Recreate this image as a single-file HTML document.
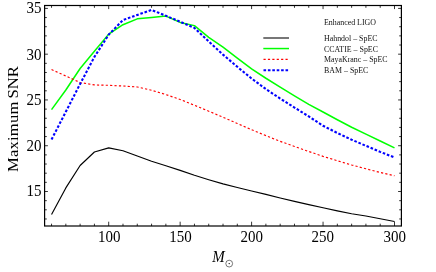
<!DOCTYPE html>
<html><head><meta charset="utf-8"><style>
html,body{margin:0;padding:0;background:#fff;}
svg{display:block;font-family:"Liberation Serif",serif;}
</style></head><body>
<svg width="436" height="272" viewBox="0 0 436 272">
<rect width="436" height="272" fill="#fff"/>
<g fill="none" stroke-linejoin="round">
<path d="M51.54,214.48 L65.83,187.93 L80.12,165.50 L94.41,152.04 L108.70,147.83 L122.99,150.76 L137.28,156.07 L151.57,161.29 L165.86,165.77 L180.15,170.35 L194.44,175.30 L208.73,179.69 L223.02,183.90 L237.31,187.56 L251.60,191.04 L265.89,194.34 L280.18,198.00 L294.47,201.39 L308.76,204.68 L323.05,207.80 L337.34,210.82 L351.63,213.75 L365.92,216.04 L380.21,218.78 L394.50,221.53" stroke="#000" stroke-width="1.15"/>
<path d="M51.54,109.65 L65.83,89.97 L80.12,68.46 L94.41,51.34 L108.70,34.13 L122.99,24.70 L137.28,18.84 L151.57,17.56 L165.86,16.09 L180.15,22.41 L194.44,25.61 L208.73,37.33 L223.02,47.22 L237.31,58.11 L251.60,68.82 L265.89,78.25 L280.18,87.13 L294.47,95.83 L308.76,104.34 L323.05,112.03 L337.34,119.72 L351.63,127.23 L365.92,134.10 L380.21,140.96 L394.50,147.92" stroke="#00ff00" stroke-width="1.5"/>
<path d="M51.54,69.56 L65.83,75.96 L80.12,82.56 L94.41,84.94 L108.70,85.30 L122.99,86.03 L137.28,86.95 L151.57,90.25 L165.86,94.55 L180.15,99.49 L194.44,105.26 L208.73,111.21 L223.02,117.25 L237.31,123.48 L251.60,129.70 L265.89,135.65 L280.18,141.33 L294.47,146.46 L308.76,151.49 L323.05,156.34 L337.34,160.74 L351.63,164.95 L365.92,168.80 L380.21,172.46 L394.50,175.75" stroke="#ff0000" stroke-width="1.15" stroke-dasharray="2.2 2.2"/>
<path d="M51.54,139.50 L65.83,111.76 L80.12,83.93 L94.41,56.92 L108.70,34.67 L122.99,20.03 L137.28,14.90 L151.57,9.96 L165.86,15.72 L180.15,21.77 L194.44,27.90 L208.73,41.45 L223.02,54.63 L237.31,66.81 L251.60,78.53 L265.89,89.06 L280.18,98.58 L294.47,107.55 L308.76,116.43 L323.05,125.77 L337.34,133.00 L351.63,139.68 L365.92,145.82 L380.21,151.86 L394.50,157.44" stroke="#0000ff" stroke-width="2.1" stroke-dasharray="2.6 1.8"/>
</g>
<rect x="44.6" y="5.5" width="356.79999999999995" height="220.5" fill="none" stroke="#000" stroke-width="1.2"/>
<path d="M51.54,226.0 v-2.3 M51.54,5.5 v2.3 M65.83,226.0 v-2.3 M65.83,5.5 v2.3 M80.12,226.0 v-2.3 M80.12,5.5 v2.3 M94.41,226.0 v-2.3 M94.41,5.5 v2.3 M108.70,226.0 v-4.3 M108.70,5.5 v3.6 M122.99,226.0 v-2.3 M122.99,5.5 v2.3 M137.28,226.0 v-2.3 M137.28,5.5 v2.3 M151.57,226.0 v-2.3 M151.57,5.5 v2.3 M165.86,226.0 v-2.3 M165.86,5.5 v2.3 M180.15,226.0 v-4.3 M180.15,5.5 v3.6 M194.44,226.0 v-2.3 M194.44,5.5 v2.3 M208.73,226.0 v-2.3 M208.73,5.5 v2.3 M223.02,226.0 v-2.3 M223.02,5.5 v2.3 M237.31,226.0 v-2.3 M237.31,5.5 v2.3 M251.60,226.0 v-4.3 M251.60,5.5 v3.6 M265.89,226.0 v-2.3 M265.89,5.5 v2.3 M280.18,226.0 v-2.3 M280.18,5.5 v2.3 M294.47,226.0 v-2.3 M294.47,5.5 v2.3 M308.76,226.0 v-2.3 M308.76,5.5 v2.3 M323.05,226.0 v-4.3 M323.05,5.5 v3.6 M337.34,226.0 v-2.3 M337.34,5.5 v2.3 M351.63,226.0 v-2.3 M351.63,5.5 v2.3 M365.92,226.0 v-2.3 M365.92,5.5 v2.3 M380.21,226.0 v-2.3 M380.21,5.5 v2.3 M394.50,226.0 v-4.3 M394.50,5.5 v3.6 M44.6,218.97 h2.2 M401.4,218.97 h-2.2 M44.6,209.81 h2.2 M401.4,209.81 h-2.2 M44.6,200.66 h2.2 M401.4,200.66 h-2.2 M44.6,191.50 h3.3 M401.4,191.50 h-3.3 M44.6,182.34 h2.2 M401.4,182.34 h-2.2 M44.6,173.19 h2.2 M401.4,173.19 h-2.2 M44.6,164.03 h2.2 M401.4,164.03 h-2.2 M44.6,154.88 h2.2 M401.4,154.88 h-2.2 M44.6,145.72 h3.3 M401.4,145.72 h-3.3 M44.6,136.57 h2.2 M401.4,136.57 h-2.2 M44.6,127.42 h2.2 M401.4,127.42 h-2.2 M44.6,118.26 h2.2 M401.4,118.26 h-2.2 M44.6,109.11 h2.2 M401.4,109.11 h-2.2 M44.6,99.95 h3.3 M401.4,99.95 h-3.3 M44.6,90.80 h2.2 M401.4,90.80 h-2.2 M44.6,81.64 h2.2 M401.4,81.64 h-2.2 M44.6,72.49 h2.2 M401.4,72.49 h-2.2 M44.6,63.33 h2.2 M401.4,63.33 h-2.2 M44.6,54.18 h3.3 M401.4,54.18 h-3.3 M44.6,45.02 h2.2 M401.4,45.02 h-2.2 M44.6,35.87 h2.2 M401.4,35.87 h-2.2 M44.6,26.71 h2.2 M401.4,26.71 h-2.2 M44.6,17.56 h2.2 M401.4,17.56 h-2.2 M44.6,8.40 h3.3 M401.4,8.40 h-3.3" stroke="#000" stroke-width="0.8" fill="none"/>
<g opacity="0.999"><g font-size="15px" fill="#000"><text transform="translate(109.30,241.5) scale(1,1.12)" text-anchor="middle">100</text><text transform="translate(180.45,241.5) scale(1,1.12)" text-anchor="middle">150</text><text transform="translate(251.70,241.5) scale(1,1.12)" text-anchor="middle">200</text><text transform="translate(322.65,241.5) scale(1,1.12)" text-anchor="middle">250</text><text transform="translate(394.70,241.5) scale(1,1.12)" text-anchor="middle">300</text><text transform="translate(41.6,196.30) scale(1,1.12)" text-anchor="end">15</text><text transform="translate(41.6,150.92) scale(1,1.12)" text-anchor="end">20</text><text transform="translate(41.6,105.15) scale(1,1.12)" text-anchor="end">25</text><text transform="translate(41.6,59.88) scale(1,1.12)" text-anchor="end">30</text><text transform="translate(41.6,13.00) scale(1,1.12)" text-anchor="end">35</text></g>
<text transform="translate(17.6,119.0) rotate(-90) scale(1.11,1)" font-size="15px" text-anchor="middle" fill="#000" style="word-spacing:-1.0px"><tspan style="letter-spacing:0.14px">Maximum</tspan> SNR</text>
<text transform="translate(212.3,262) scale(1,1.12)" font-size="15px" font-style="italic" fill="#000">M</text>
<circle cx="229.2" cy="263.6" r="3.4" fill="none" stroke="#222" stroke-width="0.6"/>
<circle cx="229.2" cy="263.6" r="0.7" fill="#000"/>
<g stroke-linecap="butt" fill="none">
<path d="M263.3,38 H289" stroke="#707070" stroke-width="1.9"/>
<path d="M263.3,48.55 H289" stroke="#00ff00" stroke-width="1.5"/>
<path d="M263.5,59.4 H289" stroke="#ff0000" stroke-width="1.15" stroke-dasharray="2.2 2.2"/>
<path d="M263.5,70.2 H289" stroke="#0000ff" stroke-width="2" stroke-dasharray="2.6 1.8"/>
</g>
<g font-size="7.9px" fill="#111">
<text transform="translate(324,24.7) scale(1,1.1)">Enhanced LIGO</text>
<text transform="translate(324,40.9) scale(1,1.1)">Hahndol – SpEC</text>
<text transform="translate(324,51.8) scale(1,1.1)">CCATIE – SpEC</text>
<text transform="translate(324,62.2) scale(1,1.1)">MayaKranc – SpEC</text>
<text transform="translate(324,72.9) scale(1,1.1)">BAM – SpEC</text>
</g></g>
</svg>
</body></html>
